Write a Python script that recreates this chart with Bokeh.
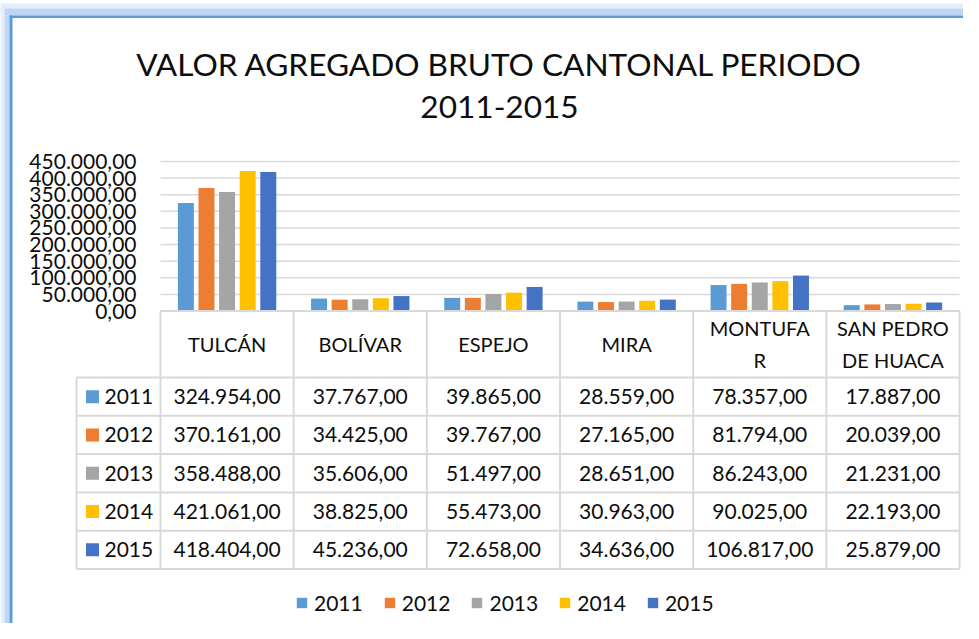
from bokeh.plotting import figure
from bokeh.models import Range1d, Legend, LegendItem
from bokeh.core.properties import value
from bokeh.embed import file_html
from bokeh.resources import INLINE

# ---------------- data ----------------
cantons = ["TULCÁN", "BOLÍVAR", "ESPEJO", "MIRA", "MONTUFAR", "SAN PEDRO DE HUACA"]
canton_labels = ["TULCÁN", "BOLÍVAR", "ESPEJO", "MIRA", "MONTUFA\nR", "SAN PEDRO\nDE HUACA"]
years = ["2011", "2012", "2013", "2014", "2015"]
v2011 = [324954, 37767, 39865, 28559, 78357, 17887]
v2012 = [370161, 34425, 39767, 27165, 81794, 20039]
v2013 = [358488, 35606, 51497, 28651, 86243, 21231]
v2014 = [421061, 38825, 55473, 30963, 90025, 22193]
v2015 = [418404, 45236, 72658, 34636, 106817, 25879]
series = [v2011, v2012, v2013, v2014, v2015]
colors = ["#5B9BD5", "#ED7D31", "#A5A5A5", "#FFC000", "#4472C4"]
y_ticks = [0, 50000, 100000, 150000, 200000, 250000, 300000, 350000, 400000, 450000]
y_tick_labels = ["0,00", "50.000,00", "100.000,00", "150.000,00", "200.000,00",
                 "250.000,00", "300.000,00", "350.000,00", "400.000,00", "450.000,00"]
title_lines = ["VALOR AGREGADO BRUTO CANTONAL PERIODO", "2011-2015"]


def fmt(v):
    s = f"{v:,.2f}"
    return s.replace(",", "#").replace(".", ",").replace("#", ".")


# ---------------- layout helpers (picture pixels -> data units) ----------------
W, H = 963, 623
COL0, COLW = 160.0, 133.17
Y0, YTOP = 310.6, 161.0
PXV = 450000.0 / (Y0 - YTOP)


def wx(px):
    return (px - COL0) / COLW


def wy(py):
    return (Y0 - py) * PXV


FONT = value("Lato")
TXT = "#0d0d0d"
GRID = "#d9d9d9"

p = figure(width=W, height=H,
           x_range=Range1d(wx(0), wx(W)),
           y_range=Range1d(wy(H), wy(0)),
           output_backend="svg", toolbar_location=None, min_border=0,
           x_axis_location=None, y_axis_location=None, title=None)
p.grid.visible = False
p.outline_line_color = None
p.background_fill_color = "white"
p.border_fill_color = "white"

# ---------------- frame decoration (blue glow border) ----------------
p.quad(left=[wx(0)], right=[wx(W)], bottom=[wy(8)], top=[wy(3)],
       fill_color="#e4eefa", line_color=None)
p.quad(left=[wx(0)], right=[wx(W)], bottom=[wy(15)], top=[wy(8)],
       fill_color="#bcd6f3", line_color=None)
p.quad(left=[wx(0)], right=[wx(4)], bottom=[wy(H)], top=[wy(8)],
       fill_color="#e4eefa", line_color=None)
p.quad(left=[wx(4)], right=[wx(9)], bottom=[wy(H)], top=[wy(15)],
       fill_color="#bcd6f3", line_color=None)
p.quad(left=[wx(9)], right=[wx(W)], bottom=[wy(17.5)], top=[wy(15)],
       fill_color="#5B9BD5", line_color=None)
p.quad(left=[wx(9)], right=[wx(12)], bottom=[wy(H)], top=[wy(15)],
       fill_color="#5B9BD5", line_color=None)

# ---------------- title ----------------
p.text(x=[wx(499), wx(499)], y=[wy(63), wy(106)], text=title_lines,
       text_font=FONT, text_font_size="31.6px", text_color=TXT,
       text_align="center", text_baseline="middle")

# ---------------- gridlines + y labels ----------------
n = len(cantons)
p.segment(x0=[0] * len(y_ticks), x1=[n] * len(y_ticks), y0=y_ticks, y1=y_ticks,
          line_color=GRID, line_width=1.5)
p.text(x=[wx(136)] * len(y_ticks), y=y_ticks, text=y_tick_labels,
       text_font=FONT, text_font_size="21px", text_color=TXT,
       text_align="right", text_baseline="middle")

# ---------------- bars ----------------
step, bw = 0.1547, 0.12
renderers = []
for j, (yr, vals) in enumerate(zip(years, series)):
    xs = [i + 0.5 + (j - 2) * step for i in range(n)]
    r = p.vbar(x=xs, top=vals, bottom=0, width=bw, fill_color=colors[j], line_color=None)
    renderers.append(r)

# ---------------- data table ----------------
ROW0, ROWH = 377.0, 38.3
row_edges = [ROW0 + k * ROWH for k in range(len(years) + 1)]
TL = 76.0
# horizontal lines
p.segment(x0=[0], x1=[n], y0=[0], y1=[0], line_color=GRID, line_width=2)
p.segment(x0=[wx(TL)] * len(row_edges), x1=[n] * len(row_edges),
          y0=[wy(e) for e in row_edges], y1=[wy(e) for e in row_edges],
          line_color=GRID, line_width=2)
# vertical lines
p.segment(x0=list(range(n + 1)), x1=list(range(n + 1)),
          y0=[0] * (n + 1), y1=[wy(row_edges[-1])] * (n + 1),
          line_color=GRID, line_width=2)
p.segment(x0=[wx(TL)], x1=[wx(TL)], y0=[wy(ROW0)], y1=[wy(row_edges[-1])],
          line_color=GRID, line_width=2)

# header (categories)
p.text(x=[i + 0.5 for i in range(n)], y=[wy(343.5)] * n, text=canton_labels,
       text_font=FONT, text_font_size="20px", text_color=TXT,
       text_align="center", text_baseline="middle", text_line_height=1.35)

# rows
for j, (yr, vals) in enumerate(zip(years, series)):
    yc = wy(ROW0 + (j + 0.5) * ROWH)
    p.scatter(x=[wx(92)], y=[yc], marker="square", size=13,
              fill_color=colors[j], line_color=None)
    p.text(x=[wx(104)], y=[yc], text=[yr], text_font=FONT, text_font_size="21px",
           text_color=TXT, text_align="left", text_baseline="middle")
    p.text(x=[i + 0.5 for i in range(n)], y=[yc] * n, text=[fmt(v) for v in vals],
           text_font=FONT, text_font_size="21px", text_color=TXT,
           text_align="center", text_baseline="middle")

# ---------------- legend ----------------
legend = Legend(items=[LegendItem(label=yr, renderers=[r]) for yr, r in zip(years, renderers)],
                orientation="horizontal", location=(295, 8),
                glyph_width=13, glyph_height=13, label_standoff=6, spacing=20,
                label_text_font="Lato", label_text_font_size="21px",
                label_text_color=TXT, border_line_color=None,
                background_fill_alpha=0, padding=0, margin=0)
p.add_layout(legend)

open("out.html", "w").write(file_html(p, INLINE))
